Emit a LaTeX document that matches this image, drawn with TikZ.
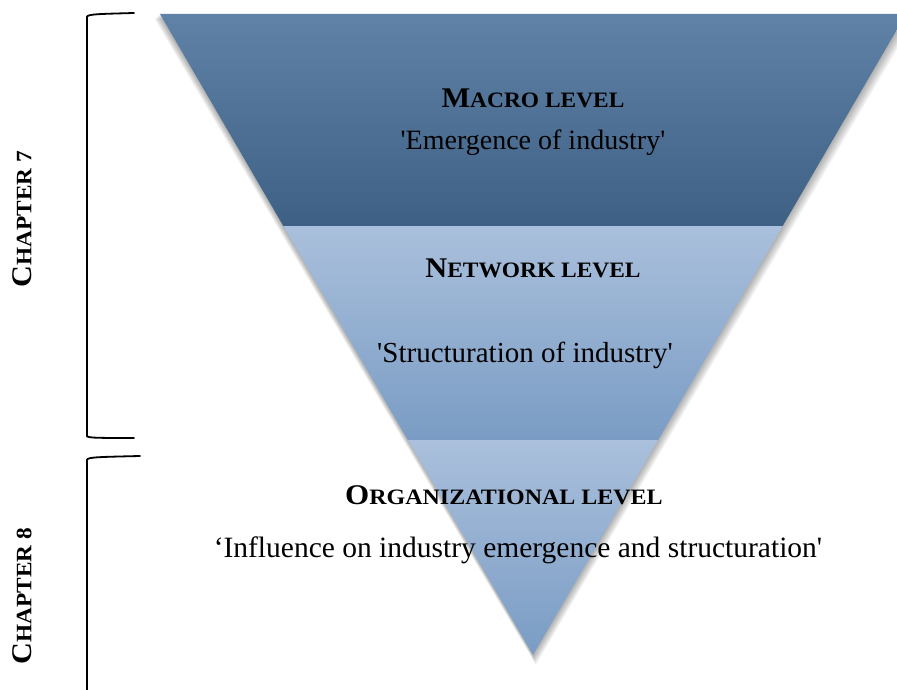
\documentclass[tikz,border=0pt]{standalone}
\usepackage{fontspec}
\usepackage{graphicx}
\setmainfont{Liberation Serif}
\usetikzlibrary{calc}
\newcommand{\fsc}[3][1.065]{\scalebox{#1}[1]{\bfseries #2{\fontsize{22}{24}\selectfont #3}}}
\newcommand{\sq}{\textquotesingle}
\begin{document}
\begin{tikzpicture}[x=1pt,y=1pt,
  body/.style={font=\fontsize{28}{32}\selectfont, inner sep=0pt, anchor=base},
  head/.style={font=\fontsize{28.5}{32}\selectfont, inner sep=0pt, anchor=base},
  chap/.style={font=\fontsize{28.5}{32}\selectfont, inner sep=0pt, rotate=90},
  brace/.style={line width=1.8pt, line cap=round}]
\useasboundingbox (0,0) rectangle (897,690);
\clip (0,0) rectangle (897,690);
\coordinate (TL) at (160,676);
\coordinate (TR) at (906,676);
\coordinate (A) at (533,35);
\coordinate (L1) at ($(A)!0.669!(TL)$);
\coordinate (R1) at ($(A)!0.669!(TR)$);
\coordinate (L2) at ($(A)!0.3354!(TL)$);
\coordinate (R2) at ($(A)!0.3354!(TR)$);
% shadow
\foreach \i in {1,...,10}{
  \fill[black, opacity=0.035] ($(TL)+(-\i*0.55,-\i*0.5)$) -- ($(TR)+(\i*0.9,-\i*0.5)$) -- ($(A)+(\i*0.3,-\i*1.0)$) -- cycle;
}
% bands
\shade[top color={rgb,255:red,96;green,130;blue,166}, bottom color={rgb,255:red,62;green,96;blue,132}] (TL) -- (TR) -- (R1) -- (L1) -- cycle;
\shade[top color={rgb,255:red,170;green,192;blue,220}, bottom color={rgb,255:red,122;green,156;blue,196}] (L1) -- (R1) -- (R2) -- (L2) -- cycle;
\shade[top color={rgb,255:red,170;green,192;blue,220}, bottom color={rgb,255:red,122;green,156;blue,196}] (L2) -- (R2) -- (A) -- cycle;
% texts
\node[head] (macro) at (533,582) {\fsc{M}{ACRO LEVEL}};
\node[body] (emerg) at (533,540) {\sq Emergence of industry\sq};
\node[head] (net) at (533,412) {\fsc{N}{ETWORK LEVEL}};
\node[body, font=\fontsize{29}{32}\selectfont] (struct) at (525,327) {\sq Structuration of industry\sq};
\node[head] (org) at (504,185) {\fsc[1.09]{O}{RGANIZATIONAL LEVEL}};
\node[body, font=\fontsize{29.5}{32}\selectfont] (infl) at (518,132) {‘Influence on industry emergence and structuration\sq};
\node[chap] (ch7) at (22,471) {\fsc[1.06]{C}{HAPTER 7}};
\node[chap] (ch8) at (22,94) {\fsc[1.06]{C}{HAPTER 8}};
% brackets
\coordinate (b1a) at (134,677);
\coordinate (b1b) at (87,673);
\coordinate (b1c) at (87,254);
\coordinate (b1d) at (134,252);
\draw[brace] (b1a) .. controls (100,676) and (87,676) .. (b1b) -- (b1c) .. controls (87,252) and (100,252) .. (b1d);
\coordinate (b2a) at (140,234);
\coordinate (b2b) at (87,230);
\coordinate (b2c) at (87,-5);
\draw[brace] (b2a) .. controls (100,233) and (87,233) .. (b2b) -- (b2c);
\end{tikzpicture}
\end{document}
